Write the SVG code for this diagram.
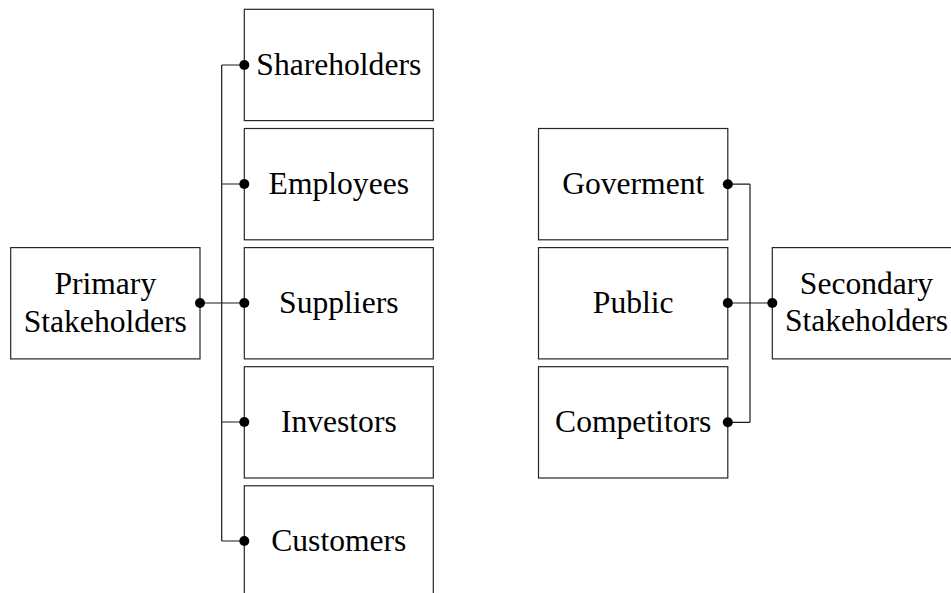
<svg xmlns="http://www.w3.org/2000/svg" width="951" height="593" viewBox="0 0 951 593">
<style>
.box{fill:#fff;stroke:#262626;stroke-width:1.2}
.c{fill:none;stroke:#1a1a1a;stroke-width:1.2}
.d{fill:#000}
</style>
<rect width="951" height="593" fill="#fff"/>
<g id="shareholders"><rect class="box" x="244.3" y="9.3" width="189" height="111.3"/><text font-family="Liberation Serif" font-size="31.6" text-anchor="middle" x="338.8" y="75">Shareholders</text></g>
<g id="employees"><rect class="box" x="244.3" y="128.5" width="189" height="111.3"/><text font-family="Liberation Serif" font-size="31.6" text-anchor="middle" x="338.8" y="194.3">Employees</text></g>
<g id="suppliers"><rect class="box" x="244.3" y="247.6" width="189" height="111.3"/><text font-family="Liberation Serif" font-size="31.6" text-anchor="middle" x="338.8" y="313.3">Suppliers</text></g>
<g id="investors"><rect class="box" x="244.3" y="366.7" width="189" height="111.3"/><text font-family="Liberation Serif" font-size="31.6" text-anchor="middle" x="338.8" y="431.8">Investors</text></g>
<g id="customers"><rect class="box" x="244.3" y="485.8" width="189" height="111.3"/><text font-family="Liberation Serif" font-size="31.6" text-anchor="middle" x="338.8" y="551">Customers</text></g>
<g id="primary"><rect class="box" x="10.7" y="247.6" width="189.3" height="111.3"/><text font-family="Liberation Serif" font-size="31.6" text-anchor="middle" x="105.3" y="294.3">Primary</text><text font-family="Liberation Serif" font-size="31.6" text-anchor="middle" x="105.3" y="331.7">Stakeholders</text></g>
<g id="goverment"><rect class="box" x="538.5" y="128.5" width="189.3" height="111.3"/><text font-family="Liberation Serif" font-size="31.6" text-anchor="middle" x="633.2" y="193.5">Goverment</text></g>
<g id="public"><rect class="box" x="538.5" y="247.6" width="189.3" height="111.3"/><text font-family="Liberation Serif" font-size="31.6" text-anchor="middle" x="633.2" y="312.6">Public</text></g>
<g id="competitors"><rect class="box" x="538.5" y="366.7" width="189.3" height="111.3"/><text font-family="Liberation Serif" font-size="31.6" text-anchor="middle" x="633.2" y="431.8">Competitors</text></g>
<g id="secondary"><rect class="box" x="772.3" y="247.6" width="189.3" height="111.3"/><text font-family="Liberation Serif" font-size="31.6" text-anchor="middle" x="866.5" y="293.5">Secondary</text><text font-family="Liberation Serif" font-size="31.6" text-anchor="middle" x="866.5" y="330.8">Stakeholders</text></g>
<g id="connectors">
<path class="c" d="M221.7 65 V541 M221.7 65 H244.3 M221.7 184 H244.3 M221.7 422 H244.3 M221.7 541 H244.3 M200 303 H244.3"/>
<path class="c" d="M750 184.2 V422.3 M727.8 184.2 H750 M727.8 422.3 H750 M727.8 303 H772.3"/>
<circle class="d" cx="244.3" cy="65" r="5"/>
<circle class="d" cx="244.3" cy="184" r="5"/>
<circle class="d" cx="244.3" cy="303" r="5"/>
<circle class="d" cx="244.3" cy="422" r="5"/>
<circle class="d" cx="244.3" cy="541" r="5"/>
<circle class="d" cx="200" cy="303" r="5"/>
<circle class="d" cx="727.8" cy="184.2" r="5"/>
<circle class="d" cx="727.8" cy="303" r="5"/>
<circle class="d" cx="727.8" cy="422.3" r="5"/>
<circle class="d" cx="772.3" cy="303" r="5"/>
</g>
</svg>
